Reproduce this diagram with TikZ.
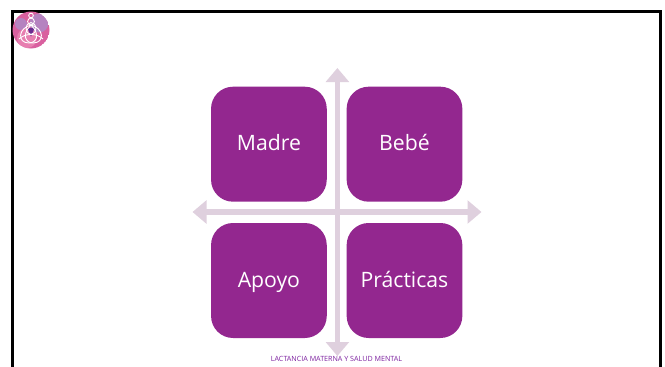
\documentclass[tikz,border=0pt]{standalone}
\usepackage{fontspec}
\setmainfont{Open Sans}
\usetikzlibrary{arrows.meta}
\definecolor{boxpurple}{HTML}{93278F}
\definecolor{axislilac}{HTML}{DFD0DE}
\definecolor{logopink}{HTML}{D9609F}
\definecolor{logolilac}{HTML}{B583C0}
\definecolor{logorose}{HTML}{E77FB0}
\definecolor{logocore}{HTML}{6A2C91}
\begin{document}
\begin{tikzpicture}[x=1pt,y=-1pt,
  quad/.style={draw=none,fill=boxpurple,rounded corners=22pt,minimum width=115.7pt,minimum height=115pt,inner sep=0pt,text=white,text height=16pt,text depth=3pt,font=\fontsize{21.2}{25}\selectfont},
  axis/.style={line width=5.3pt,axislilac,{Triangle[width=22.7pt,length=14pt]}-{Triangle[width=22.7pt,length=14pt]}},
  frameline/.style={draw=black,line width=2.8pt},
  logoline/.style={draw=white,line width=0.9pt}]
\useasboundingbox (0,0) rectangle (665,367);
\fill[white] (0,0) rectangle (665,367);
\draw[frameline] (12.5,375) -- (12.5,11.5) -- (660.8,11.5) -- (660.8,375);
% logo
\begin{scope}
\clip (31,30) circle (18.5);
\fill[logopink] (31,30) circle (18.5);
\fill[logolilac] (39,23) circle (9.5);
\fill[logolilac] (21,24) circle (6);
\fill[logorose] (27,38) circle (10);
\end{scope}
\fill[logocore] (27.5,28) -- (34.5,28) -- (31,36.5) -- cycle;
\draw[logoline] (31,15.5) circle (2.3);
\draw[logoline] (31,21.5) circle (3.4);
\draw[logoline] (31,28.5) ellipse (4.8 and 6);
\draw[logoline] (31,25) .. controls (44,28) and (45,43) .. (33,43) .. controls (26,43) and (21,35) .. (31,25);
\draw[logoline] (31,25) .. controls (18,28) and (17,43) .. (29,43) .. controls (36,43) and (41,35) .. (31,25);
\draw[logoline] (19,39) .. controls (25,33) and (37,33) .. (43,39);
% axes
\coordinate (west) at (192.5,212);
\coordinate (east) at (481.5,212);
\coordinate (north) at (337.4,68);
\coordinate (south) at (337.4,356);
\draw[axis] (west) -- (east);
\draw[axis] (north) -- (south);
% quadrants
\node[quad] (madre) at (268.9,144.2) {Madre};
\node[quad] (bebe) at (404.5,144.2) {Bebé};
\node[quad] (apoyo) at (268.9,280.5) {Apoyo};
\node[quad] (practicas) at (404.5,280.5) {Prácticas};
\node[text=boxpurple!85!blue,font=\fontsize{7.15}{8}\selectfont,inner sep=0pt] (footer) at (336.5,358.5) {LACTANCIA MATERNA Y SALUD MENTAL};
\end{tikzpicture}
\end{document}
